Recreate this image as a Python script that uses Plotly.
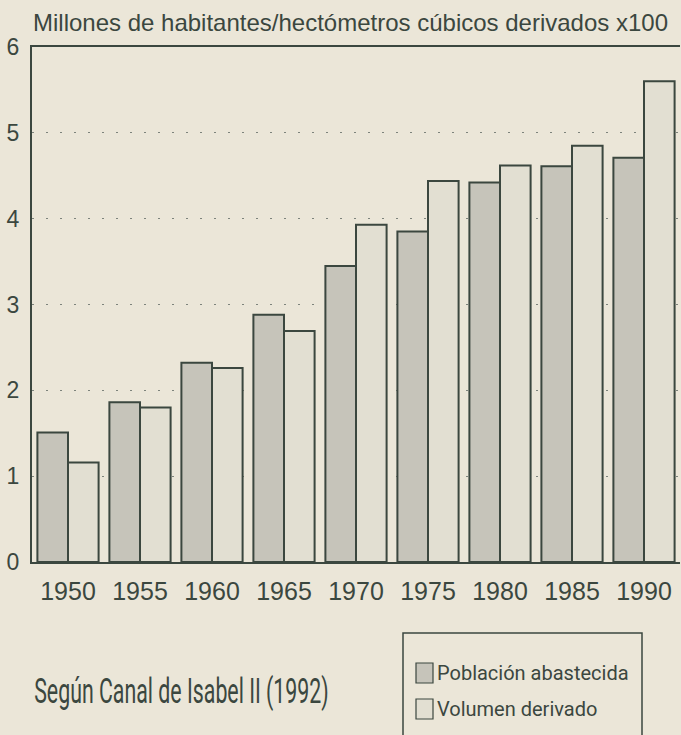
import plotly.graph_objects as go

years = ["1950", "1955", "1960", "1965", "1970", "1975", "1980", "1985", "1990"]
poblacion = [1.51, 1.86, 2.32, 2.88, 3.45, 3.85, 4.42, 4.61, 4.71]
volumen = [1.16, 1.80, 2.26, 2.69, 3.93, 4.44, 4.62, 4.85, 5.60]
y_ticks = [0, 1, 2, 3, 4, 5, 6]

INK = "#3b473f"
BG = "#ebe6d8"
C_POB = "#c6c4ba"
C_VOL = "#e2dfd2"

fig = go.Figure()
fig.add_trace(go.Bar(x=years, y=poblacion, name="Población abastecida",
                     marker=dict(color=C_POB, line=dict(color=INK, width=2))))
fig.add_trace(go.Bar(x=years, y=volumen, name="Volumen derivado",
                     marker=dict(color=C_VOL, line=dict(color=INK, width=2))))

L, T, W, H = 32, 47, 681, 735
B = 562
fig.update_layout(
    width=W, height=H,
    margin=dict(l=L, r=1, t=T, b=H - B),
    paper_bgcolor=BG, plot_bgcolor=BG,
    barmode="group", bargap=0.15, bargroupgap=0,
    showlegend=False,
    font=dict(family="Liberation Sans, Arial, sans-serif", color=INK),
)
fig.update_xaxes(
    type="category", range=[-0.5, 8.5],
    showline=True, linecolor=INK, linewidth=2, mirror=True,
    showgrid=False, ticks="", tickfont=dict(size=25, color=INK),
    ticklabelstandoff=6,
)
fig.update_yaxes(
    range=[0, 6], tickvals=y_ticks,
    showline=True, linecolor=INK, linewidth=2,
    showgrid=True, gridcolor="#7d837c", gridwidth=1, griddash="2px,12px",
    zeroline=False, ticks="", tickfont=dict(size=23, color=INK),
    ticklabelstandoff=6,
)

PW = W - L - 1
PH = B - T


def px(x):
    return (x - L) / PW


def py(y):
    return (B - y) / PH


# Axis title on top
fig.add_annotation(text="Millones de habitantes/hectómetros cúbicos derivados x100",
                   xref="paper", yref="paper", x=px(31), y=py(22),
                   xanchor="left", yanchor="middle", showarrow=False,
                   font=dict(size=24, color=INK))

# Source note
fig.add_annotation(text="Según Canal de Isabel II (1992)",
                   xref="paper", yref="paper", x=px(32), y=py(692),
                   xanchor="left", yanchor="middle", showarrow=False,
                   font=dict(size=35, color=INK, family="Roboto, sans-serif"))

# Legend box
fig.add_shape(type="rect", xref="paper", yref="paper",
              x0=px(403), x1=px(642), y0=py(760), y1=py(633),
              line=dict(color=INK, width=1.5), fillcolor="rgba(0,0,0,0)")
for yc, col, label in [(673, C_POB, "Población abastecida"), (709, C_VOL, "Volumen derivado")]:
    fig.add_shape(type="rect", xref="paper", yref="paper",
                  x0=px(416), x1=px(433), y0=py(yc + 10), y1=py(yc - 10),
                  line=dict(color=INK, width=1.2), fillcolor=col)
    fig.add_annotation(text=label, xref="paper", yref="paper",
                       x=px(435), y=py(yc), xanchor="left", yanchor="middle",
                       showarrow=False,
                       font=dict(size=20, color=INK, family="Roboto, sans-serif"))

post = """
document.body.style.margin = '0';
document.body.style.overflow = 'hidden';
function squeeze() {
  document.querySelectorAll('text.annotation-text').forEach(function (t) {
    if (t.textContent.indexOf('Seg') === 0) {
      t.style.transformBox = 'fill-box';
      t.style.transformOrigin = '0% 50%';
      t.style.transform = 'scaleX(0.61)';
    }
  });
}
squeeze();
var gd = document.getElementById('{plot_id}');
if (gd && gd.on) { gd.on('plotly_afterplot', squeeze); }
"""

fig.write_html("out.html", post_script=post, config={"displayModeBar": False})
